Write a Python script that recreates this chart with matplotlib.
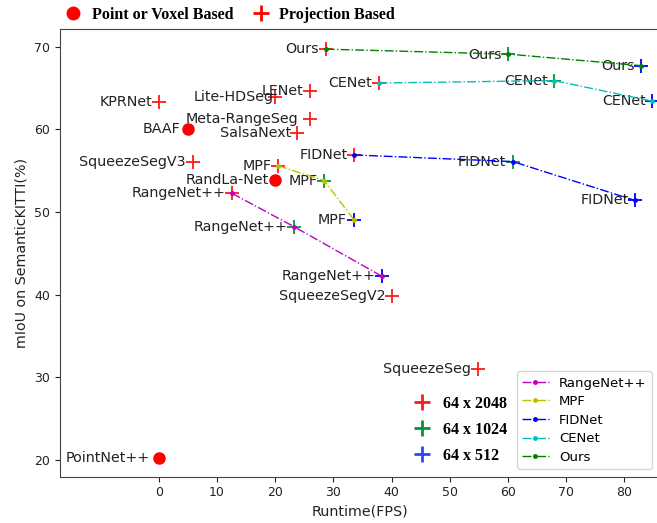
# Runtime vs mIoU on SemanticKITTI, point-based vs projection-based methods

import matplotlib.pyplot as plt
from matplotlib.lines import Line2D

# ---- data ----
# point / voxel based methods (red circles)
point_names = ['PointNet++', 'BAAF', 'RandLa-Net']
point_fps = [0.0, 5.1, 20.0]
point_miou = [20.2, 60.0, 53.9]

# projection based methods with one resolution (64 x 2048)
proj_names = ['KPRNet', 'SqueezeSegV3', 'Lite-HDSeg', 'LENet', 'Meta-RangeSeg',
              'SalsaNext', 'SqueezeSegV2', 'SqueezeSeg']
proj_fps = [0.1, 5.8, 19.9, 25.9, 26.0, 23.8, 40.1, 54.8]
proj_miou = [63.25, 56.1, 63.9, 64.6, 61.2, 59.6, 39.8, 31.0]

# methods evaluated at three resolutions: 64x2048, 64x1024, 64x512
series_names = ['RangeNet++', 'MPF', 'FIDNet', 'CENet', 'Ours']
rangenet_fps = [12.6, 23.3, 38.4]
rangenet_miou = [52.25, 48.2, 42.2]
mpf_fps = [20.5, 28.4, 33.6]
mpf_miou = [55.6, 53.8, 49.0]
fidnet_fps = [33.6, 60.8, 81.8]
fidnet_miou = [56.9, 56.1, 51.4]
cenet_fps = [37.8, 67.9, 84.8]
cenet_miou = [65.6, 65.9, 63.4]
ours_fps = [28.7, 60.0, 82.9]
ours_miou = [69.7, 69.1, 67.7]

resolutions = ['64 x 2048', '64 x 1024', '64 x 512']
x_ticks = [0, 10, 20, 30, 40, 50, 60, 70, 80]
y_ticks = [20, 30, 40, 50, 60, 70]

# ---- style ----
series_fps = [rangenet_fps, mpf_fps, fidnet_fps, cenet_fps, ours_fps]
series_miou = [rangenet_miou, mpf_miou, fidnet_miou, cenet_miou, ours_miou]
series_colors = ['m', 'y', 'b', 'c', 'g']
res_colors = ['#ff1a1a', '#00943c', '#2a48ff']
res_colors_data = ['#ff1a1a', '#009a2e', '#0000ff']
label_size = 10.3
PX = 0.72  # points per pixel at dpi 100

# label offset (pixels to the left of the marker), default 6.5
label_shift = {'Lite-HDSeg': 1, 'Meta-RangeSeg': 12, 'PointNet++': 9, 'BAAF': 8}

fig = plt.figure(figsize=(6.57, 5.23), dpi=100)
ax = fig.add_axes([60 / 657, 1 - 476.7 / 523, 600 / 657, (476.7 - 29.3) / 523])

def label(name, x, y, shift=6.5, dy=0):
    ax.annotate(name, (x, y), xytext=(-shift * PX, dy * PX), textcoords='offset points',
                ha='right', va='center', fontsize=label_size, color='#222222')

# point based
ax.plot(point_fps, point_miou, 'o', color='red', markersize=8, linestyle='none', zorder=3)
for n, x, y in zip(point_names, point_fps, point_miou):
    label(n, x, y, label_shift.get(n, 6.5))

# single-resolution projection methods
ax.plot(proj_fps, proj_miou, '+', color=res_colors_data[0], markersize=9.5,
        markeredgewidth=1.3, linestyle='none', zorder=3)
for n, x, y in zip(proj_names, proj_fps, proj_miou):
    label(n, x, y, label_shift.get(n, 6.5))

# multi-resolution methods: resolution crosses, then the series line with dots
for fps, miou in zip(series_fps, series_miou):
    for i in range(3):
        ax.plot(fps[i], miou[i], '+', color=res_colors_data[i], markersize=9.5,
                markeredgewidth=1.3, zorder=3)

series_lines = []
for name, fps, miou, c in zip(series_names, series_fps, series_miou, series_colors):
    ln, = ax.plot(fps, miou, '-.', color=c, marker='.', markersize=5, linewidth=1,
                  label=name, zorder=4)
    series_lines.append(ln)
    for i in range(3):
        shift = 8 if (name == 'MPF' and i == 2) else 6.5
        dy = -1 if (name == 'Ours' and i == 1) else 0
        label(name, fps[i], miou[i], shift, dy)

ax.set_xlim(-16.96, 86.1)
ax.set_ylim(17.98, 72.1)
ax.set_xticks(x_ticks)
ax.set_yticks(y_ticks)
ax.tick_params(labelsize=9, colors='#222222')
for s in ax.spines.values():
    s.set_color('#444444')
ax.set_xlabel('Runtime(FPS)', fontsize=label_size, color='#222222')
ax.set_ylabel('mIoU on SemanticKITTI(%)', fontsize=label_size, color='#222222')

# series legend, lower right
leg1 = ax.legend(handles=series_lines, loc='lower right', fontsize=9.5,
                 bbox_to_anchor=(652 / 657, 1 - 469 / 523), bbox_transform=fig.transFigure,
                 borderaxespad=0, labelspacing=0.42)
ax.add_artist(leg1)

# resolution legend
bold_serif = {'family': 'Liberation Serif', 'weight': 'bold', 'size': 11.5}
res_handles = [Line2D([], [], marker='+', color=c, linestyle='none', markersize=12,
                      markeredgewidth=2.0) for c in res_colors]
ax.legend(res_handles, resolutions, loc='upper left', prop=bold_serif, frameon=False,
          bbox_to_anchor=(413.7 / 657, 1 - 396 / 523), bbox_transform=fig.transFigure,
          borderpad=0, borderaxespad=0, handlelength=1, handletextpad=0.83,
          labelspacing=0.62)

# method type legend on top
type_handles = [Line2D([], [], marker='o', color='red', linestyle='none', markersize=9),
                Line2D([], [], marker='+', color='red', linestyle='none', markersize=12,
                       markeredgewidth=2.0)]
fig.legend(type_handles, ['Point or Voxel Based', 'Projection Based'], loc='upper left',
           ncol=2, prop=bold_serif, frameon=False, bbox_to_anchor=(65.3 / 657, 1 - 7 / 523),
           borderpad=0, borderaxespad=0, handlelength=1, handletextpad=0.67,
           columnspacing=1.2)

fig.savefig('out.png', dpi=100)
